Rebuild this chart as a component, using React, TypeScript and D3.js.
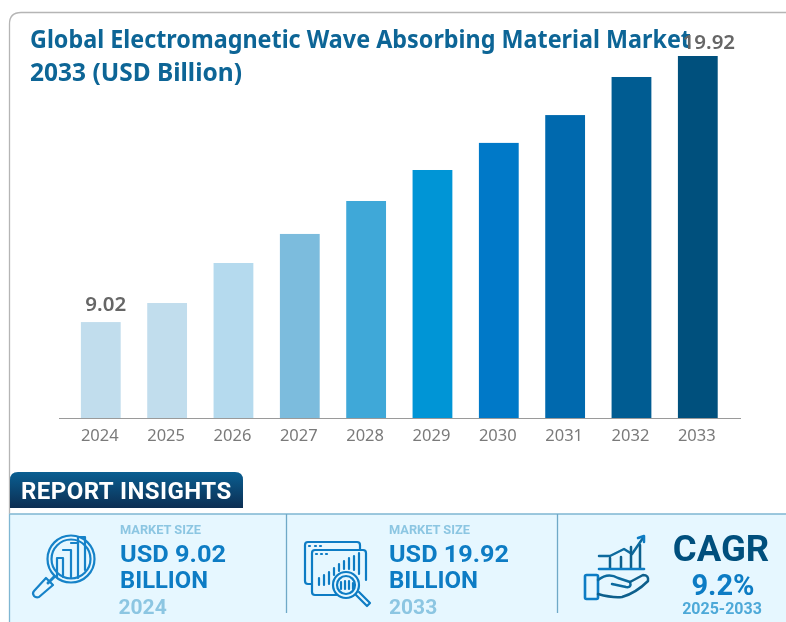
import React from "react";
import * as d3 from "d3";

const years = ["2024","2025","2026","2027","2028","2029","2030","2031","2032","2033"];
const values = [9.02,9.8,11.44,12.63,13.98,15.25,16.36,17.5,19.06,19.92];
const barColors = ["#c1dded","#c1dded","#b5daee","#7cbcdd","#3fa8d8","#0095d6","#0079c8","#0069ae","#005c92","#00507d"];
const valueLabels: Record<string,string> = { "2024": "9.02", "2033": "19.92" };
const titleLines = ["Global Electromagnetic Wave Absorbing Material Market","2033 (USD Billion)"];

const W = 786, H = 622;
const baseY = 418;
const x = d3.scaleBand<string>().domain(years).range([59, 739.6]).paddingInner(0.4).paddingOuter(0.33);
const y = d3.scaleLinear().domain([5.09, 19.92]).range([baseY, 56]);
const roboto = "Roboto, sans-serif";
const noto = "'Noto Sans', sans-serif";

const Stat = ({ tx, label, l1, l2, year, w1, w2, ly }: any) => (
  <g fontFamily={roboto} fontWeight={700} filter="url(#soft)">
    <text x={tx} y={533.5} fontSize={12.8} fill="#8cc6e2">{label}</text>
    <text x={tx} y={562} fontSize={24.5} fill="#0a7cc4" textLength={w1} lengthAdjust="spacingAndGlyphs">{l1}</text>
    <text x={tx} y={588} fontSize={24.5} fill="#0a7cc4" textLength={w2} lengthAdjust="spacingAndGlyphs">{l2}</text>
    <text x={ly} y={614} fontSize={21} fill="#8cc6e2">{year}</text>
  </g>
);

export default function App() {
  const cx = (yr: string) => x(yr)! + x.bandwidth() / 2;
  return (
    <svg width={W} height={H} viewBox={`0 0 ${W} ${H}`} style={{ position: "absolute", left: 0, top: 0, background: "#fff" }}>
      <defs>
        <linearGradient id="tab" x1="0" x2="0" y1="0" y2="1">
          <stop offset="0" stopColor="#0a5f92" />
          <stop offset="1" stopColor="#0c2e52" />
        </linearGradient>
        <filter id="soft" x="-5%" y="-5%" width="110%" height="110%"><feGaussianBlur stdDeviation="0.35" /></filter>
      </defs>

      <path d="M9.5 480 V24 Q9.5 12.5 21 12.5 H786" fill="none" stroke="#b5b5b5" strokeWidth={1.3} />

      <g fontFamily={noto} fontWeight={700} fontSize={25.5} fill="#0b6596" filter="url(#soft)">
        <text x={30} y={47.5} textLength={661} lengthAdjust="spacingAndGlyphs">{titleLines[0]}</text>
        <text x={30} y={80.5} textLength={212} lengthAdjust="spacingAndGlyphs">{titleLines[1]}</text>
      </g>

      {years.map((yr, i) => (
        <rect key={yr} x={x(yr)} y={y(values[i])} width={x.bandwidth()} height={baseY - y(values[i])} fill={barColors[i]} />
      ))}
      <line x1={59} x2={741} y1={418.5} y2={418.5} stroke="#9a9a9a" strokeWidth={1.2} />
      <g fontFamily={noto} filter="url(#soft)">
        {years.map((yr) => (
          <text key={yr} x={cx(yr) - 1} y={441} textAnchor="middle" fontSize={16.5} fill="#7a7a7a">{yr}</text>
        ))}
        {years.map((yr, i) => valueLabels[yr] ? (
          <text key={yr} x={cx(yr) + (yr === "2033" ? 11 : 5)} y={yr === "2033" ? 48.5 : 311} textAnchor="middle" fontSize={20.5} fontWeight={600} fill="#666">{valueLabels[yr]}</text>
        ) : null)}
      </g>

      <rect x={9.5} y={514} width={777} height={108} fill="#e6f7ff" />
      <path d="M9.5 622 V514 H786" fill="none" stroke="#7fb6d2" strokeWidth={1.3} />
      <path d="M9.5 513.5 V480" fill="none" stroke="#b5b5b5" strokeWidth={1.3} />
      <line x1={286.5} x2={286.5} y1={514} y2={613} stroke="#6fa9c7" strokeWidth={1.3} />
      <line x1={557.5} x2={557.5} y1={514} y2={613} stroke="#6fa9c7" strokeWidth={1.3} />

      <path d="M10 508 V480 Q10 472 18 472 H235 Q243 472 243 480 V508 Z" fill="url(#tab)" />
      <text x={21} y={498.5} fontFamily={roboto} fontWeight={700} fontSize={24} fill="#fff" letterSpacing={0.45} filter="url(#soft)">REPORT INSIGHTS</text>

      {/* magnifier with bars */}
      <g fill="none" stroke="#1482c8" strokeWidth={2.2} strokeLinejoin="round" strokeLinecap="round" filter="url(#soft)">
        <circle cx={71} cy={559} r={23.5} />
        <circle cx={71} cy={559} r={19.5} />
        <path d="M57 577 V558 H63 V577 M63 550 H71 V578 M71 543 H78 V578 M78 537 H85 V570 M78 537 V543" />
        <path d="M54 577 L48 583" strokeWidth={3} />
        <path d="M46 578 L53 585 L39 597 Q36 598 34 596 Q32 593 34 591 Z" />
      </g>

      {/* browser windows with magnifier */}
      <g fill="none" stroke="#0a7cc4" strokeWidth={2.2} strokeLinejoin="round" strokeLinecap="round" filter="url(#soft)">
        <path d="M311 584 H308 Q305 584 305 581 V545 Q305 542 308 542 H357 Q360 542 360 545 V550" />
        <path d="M337 595 H315 Q312 595 312 592 V553 Q312 550 315 550 H363 Q366 550 366 553 V580" />
        <path d="M309 546 h1 M315 546 h1 M320 546 h1 M316 554 h1 M321 554 h1 M326 554 h1" />
        <path d="M319 585 V578 M324 585 V575 M329 584 V572 M334 575 V568 M339 571 V564 M344 569 V561 M349 569 V558 M354 570 V556 M359 574 V553" />
        <circle cx={346} cy={585} r={13} />
        <circle cx={346} cy={585} r={9} />
        <path d="M341 589 V582 M345 589 V581 M349 589 V581 M353 589 V583" />
        <path d="M356 595 L367 606 L370 603 L359 592 " />
      </g>

      {/* hand with growth chart */}
      <g fill="none" strokeLinejoin="round" strokeLinecap="round" filter="url(#soft)">
        <path d="M599 556 H610 L624 549 L632 554 L643 538" stroke="#0a6a9e" strokeWidth={2.5} />
        <path d="M638 538 L644 536 L644 542" stroke="#0a7cc4" strokeWidth={2.5} />
        <path d="M610 568 V558 M621 568 V557 M631 568 V547 M640 568 V545" stroke="#0a5f8c" strokeWidth={2.5} />
        <path d="M599 569 H644" stroke="#0a7cc4" strokeWidth={2.6} />
        <rect x={585} y={575} width={13} height={24} rx={1.5} stroke="#0a7cc4" strokeWidth={2.6} />
        <path d="M598 580 Q608 572 618 578 L630 582 Q632 588 626 587 L612 584" stroke="#0a6a9e" strokeWidth={2.5} />
        <path d="M630 582 L643 575 Q649 575 648 581 Q636 593 622 597 Q612 598 598 594" stroke="#0a5f8c" strokeWidth={2.5} />
      </g>

      <Stat tx={120} ly={118.5} label="MARKET SIZE" l1="USD 9.02" l2="BILLION" year="2024" w1={106} w2={88} />
      <Stat tx={389} ly={389} label="MARKET SIZE" l1="USD 19.92" l2="BILLION" year="2033" w1={120} w2={89} />

      <g fontFamily={roboto} fontWeight={700} textAnchor="middle" filter="url(#soft)">
        <text x={721} y={561} fontSize={36.5} fill="#00507d">CAGR</text>
        <text x={723} y={595} fontSize={29} fill="#0a7cc4">9.2%</text>
        <text x={722} y={614} fontSize={16} fill="#4da9d8">2025-2033</text>
      </g>
    </svg>
  );
}
